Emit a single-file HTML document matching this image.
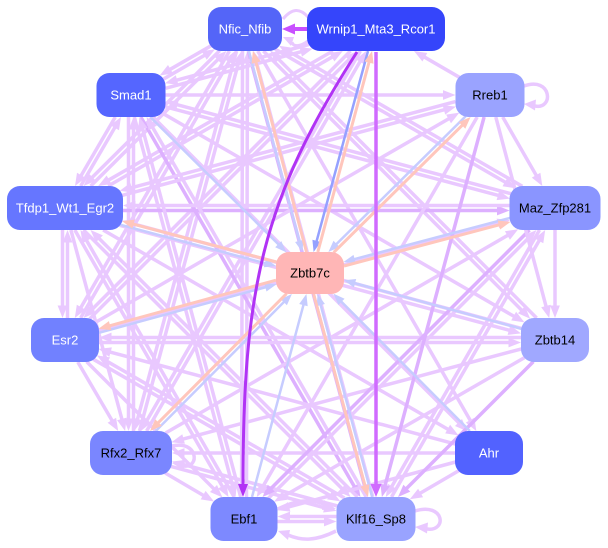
<!DOCTYPE html>
<html><head><meta charset="utf-8">
<style>
html,body{margin:0;padding:0;background:#fff;}
svg{display:block;}
text{font-family:"Liberation Sans",Arial,sans-serif;font-size:13px;}
</style></head><body>
<svg id="s" width="608" height="548" viewBox="0 0 608 548" xmlns="http://www.w3.org/2000/svg">
<g id="edges"></g>
<g id="special">
  <path d="M283,19 C292,8 300,8 308,17" fill="none" stroke="#e9c8ff" stroke-width="3"/>
  <path d="M308,41 C300,47 293,47 292,42" fill="none" stroke="#e9c8ff" stroke-width="3"/>
  <polygon points="283,37 294,37 291,46" fill="#e9c8ff"/>
  <line x1="307" y1="29" x2="294" y2="29" stroke="#c850ff" stroke-width="4"/>
  <polygon points="282,29 295,23.5 295,34.5" fill="#c850ff"/>
  <line x1="376" y1="52" x2="376" y2="485" stroke="#d06bff" stroke-width="3.5"/>
  <polygon points="376,497 370.5,484 381.5,484" fill="#d06bff"/>
  <path d="M357,52 C262,200 243,290 243,485" fill="none" stroke="#b133f5" stroke-width="3"/>
  <polygon points="243,497 238,484 248,484" fill="#b133f5"/>
  <path d="M524,86 C552,76 554,110 535,106" fill="none" stroke="#e9c8ff" stroke-width="3.5"/>
  <polygon points="524,104 536,99.5 535,110.5" fill="#e9c8ff"/>
  <path d="M415,511 C445,502 447,532 427,529" fill="none" stroke="#e9c8ff" stroke-width="3.5"/>
  <polygon points="415,527 428,522.5 427,533.5" fill="#e9c8ff"/>
  <path d="M172,446 C198,440 200,468 184,466" fill="none" stroke="#e9c8ff" stroke-width="3.5"/>
  <polygon points="172,463 185,459.5 184,470.5" fill="#e9c8ff"/>
  <path d="M278,509 C298,499 312,499 326,505" fill="none" stroke="#e9c8ff" stroke-width="3.5"/>
  <polygon points="336,509 324,500 322,510" fill="#e9c8ff"/>
  <path d="M336,531 C316,541 302,541 288,535" fill="none" stroke="#e9c8ff" stroke-width="3.5"/>
  <polygon points="278,531 290,530 288,540" fill="#e9c8ff"/>
</g>
<g id="nodes">
  <rect x="208" y="7" width="74" height="44" rx="13" fill="#5465f8"/>
  <text x="245" y="33.5" text-anchor="middle" fill="#fff">Nfic_Nfib</text>
  <rect x="307" y="7" width="138" height="44" rx="13" fill="#3545fb"/>
  <text x="376" y="33.5" text-anchor="middle" fill="#fff">Wrnip1_Mta3_Rcor1</text>
  <rect x="96.5" y="73" width="69" height="44" rx="13" fill="#5566ff"/>
  <text x="131" y="99.5" text-anchor="middle" fill="#fff">Smad1</text>
  <rect x="7" y="186" width="116" height="44" rx="13" fill="#6676ff"/>
  <text x="65" y="212.5" text-anchor="middle" fill="#fff">Tfdp1_Wt1_Egr2</text>
  <rect x="455.5" y="73" width="69" height="44" rx="13" fill="#9aa3ff"/>
  <text x="490" y="99.5" text-anchor="middle" fill="#000">Rreb1</text>
  <rect x="509.5" y="186" width="91" height="44" rx="13" fill="#8a95ff"/>
  <text x="555" y="212.5" text-anchor="middle" fill="#000">Maz_Zfp281</text>
  <rect x="31" y="318" width="68" height="44" rx="13" fill="#7181ff"/>
  <text x="65" y="344.5" text-anchor="middle" fill="#fff">Esr2</text>
  <rect x="521" y="318" width="68" height="44" rx="13" fill="#a0a8ff"/>
  <text x="555" y="344.5" text-anchor="middle" fill="#000">Zbtb14</text>
  <rect x="90" y="431" width="82" height="44" rx="13" fill="#7a86ff"/>
  <text x="131" y="457.5" text-anchor="middle" fill="#000">Rfx2_Rfx7</text>
  <rect x="455" y="431" width="68" height="44" rx="13" fill="#5262ff"/>
  <text x="489" y="457.5" text-anchor="middle" fill="#fff">Ahr</text>
  <rect x="210.5" y="497" width="67" height="44" rx="13" fill="#7d89ff"/>
  <text x="244" y="523.5" text-anchor="middle" fill="#000">Ebf1</text>
  <rect x="336.5" y="497" width="79" height="44" rx="13" fill="#99a3ff"/>
  <text x="376" y="523.5" text-anchor="middle" fill="#000">Klf16_Sp8</text>
  <rect x="276" y="252" width="68" height="42" rx="13" fill="#ffb6b6"/>
  <text x="310" y="277.5" text-anchor="middle" fill="#000">Zbtb7c</text>
</g>
</svg>
<script>
(function(){
var NS='http://www.w3.org/2000/svg';
var g=document.getElementById('edges');
var N={
 nfic:[245,29,74,44], wrn:[376,29,138,44], smad:[131,95,69,44], tfdp:[65,208,116,44],
 rreb:[490,95,69,44], maz:[555,208,91,44], esr:[65,340,68,44], zb14:[555,340,68,44],
 rfx:[131,453,82,44], ahr:[489,453,68,44], ebf:[244,519,67,44], klf:[376,519,79,44],
 z7c:[310,273,68,42]
};
function add(tag,a){var e=document.createElementNS(NS,tag);for(var k in a)e.setAttribute(k,a[k]);g.appendChild(e);return e;}
function inside(n,x,y){var hw=n[2]/2,hh=n[3]/2,r=13;var ax=Math.abs(x-n[0]),ay=Math.abs(y-n[1]);
 if(ax>hw||ay>hh)return false;var dx=ax-(hw-r),dy=ay-(hh-r);if(dx>0&&dy>0)return dx*dx+dy*dy<=r*r;return true;}
function bnd(n,ox,oy,ux,uy){var t=1e9,hw=n[2]/2,hh=n[3]/2;
 if(Math.abs(ux)>1e-6)t=Math.min(t,((ux>0?n[0]+hw:n[0]-hw)-ox)/ux);
 if(Math.abs(uy)>1e-6)t=Math.min(t,((uy>0?n[1]+hh:n[1]-hh)-oy)/uy);
 var x=ox+ux*t,y=oy+uy*t,i=0;
 while(!inside(n,x,y)&&i<40){x-=ux*0.5;y-=uy*0.5;i++;}
 return [x,y];}
function edge(a,b,col,w,off){
 var A=N[a],B=N[b];var dx=B[0]-A[0],dy=B[1]-A[1];var L=Math.hypot(dx,dy);var ux=dx/L,uy=dy/L;var px=-uy,py=ux;
 var ax=A[0]+px*off,ay=A[1]+py*off,bx=B[0]+px*off,by=B[1]+py*off;
 var s=bnd(A,ax,ay,ux,uy),e=bnd(B,bx,by,-ux,-uy);
 var al=9+w,hw=3+w*0.55;
 var basex=e[0]-ux*al,basey=e[1]-uy*al;
 add('line',{x1:s[0].toFixed(1),y1:s[1].toFixed(1),x2:(basex+ux).toFixed(1),y2:(basey+uy).toFixed(1),stroke:col,'stroke-width':w});
 add('polygon',{points:e[0].toFixed(1)+','+e[1].toFixed(1)+' '+(basex+px*hw).toFixed(1)+','+(basey+py*hw).toFixed(1)+' '+(basex-px*hw).toFixed(1)+','+(basey-py*hw).toFixed(1),fill:col});
}
var L='#e9c8ff',D='#ddb0ff';
var P=[
['smad','nfic'],['tfdp','nfic'],['esr','nfic'],['rfx','nfic'],['ebf','nfic'],['klf','nfic'],['maz','nfic'],['zb14','nfic'],
['nfic','smad'],['nfic','tfdp'],['nfic','esr'],['nfic','rfx'],['nfic','maz'],['nfic','zb14'],['nfic','klf'],['nfic','ahr'],['nfic','ebf'],
['smad','wrn'],['tfdp','wrn'],['esr','wrn'],['rfx','wrn'],['rreb','wrn'],
['wrn','smad'],['wrn','tfdp'],['wrn','esr'],['wrn','rfx'],
['smad','tfdp'],['tfdp','smad'],['tfdp','esr'],['esr','tfdp'],
['smad','rfx'],['smad','ebf'],['smad','klf'],['smad','maz'],['smad','zb14'],['smad','rreb'],['smad','ahr'],
['tfdp','rfx'],['tfdp','ebf'],['tfdp','klf'],['tfdp','maz'],['tfdp','zb14'],['tfdp','rreb'],['tfdp','ahr'],
['esr','rfx'],['esr','ebf'],['esr','klf'],['esr','zb14'],['esr','maz'],['esr','rreb'],
['rfx','ebf'],['rfx','klf'],['rfx','maz'],['rfx','smad'],
['ebf','klf'],['klf','ebf'],['ebf','smad'],['ebf','tfdp'],['ebf','maz'],
['klf','smad'],['klf','tfdp'],['klf','esr'],['klf','rfx'],['klf','maz'],
['ahr','klf'],['ahr','ebf'],['ahr','esr'],['ahr','rfx'],
['zb14','ebf'],['zb14','klf'],['zb14','tfdp'],['zb14','esr'],['zb14','rfx'],
['maz','ebf'],['maz','klf'],['maz','tfdp'],['maz','smad'],['maz','zb14'],
['rreb','maz'],['rreb','zb14'],['rreb','klf'],['rreb','ebf'],['rreb','tfdp']
];
var keys={};P.forEach(function(e){keys[e[0]+'>'+e[1]]=1;});
var dark={'maz>ebf':1,'zb14>klf':1,'rreb>klf':1,'nfic>klf':1,'tfdp>maz':1,'smad>klf':1};
P.forEach(function(e){var off=keys[e[1]+'>'+e[0]]?2.5:0;var k=e[0]+'>'+e[1];edge(e[0],e[1],dark[k]?D:L,3.5,off);});
var B='#c6ccff',S='#ffc6bc';
['smad','nfic','rreb','maz','zb14','ahr','klf','ebf','rfx','esr','tfdp'].forEach(function(n){edge(n,'z7c',B,2.5,2);});
edge('wrn','z7c','#95a1ff',2.5,2);
['nfic','wrn','rreb','maz','tfdp','esr','rfx','klf'].forEach(function(n){edge('z7c',n,S,3,2);});
})();
</script>
</body></html>
